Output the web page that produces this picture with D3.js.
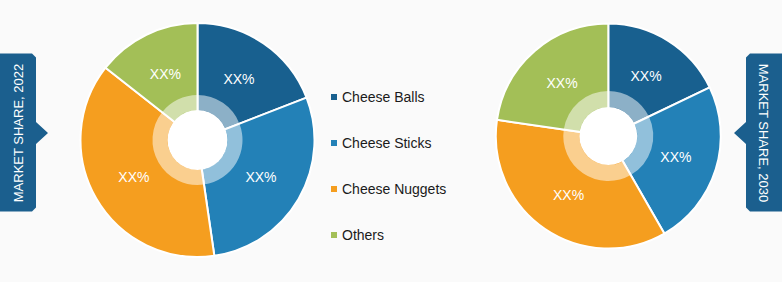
<!DOCTYPE html>
<html>
<head>
<meta charset="utf-8">
<script src="https://cdn.jsdelivr.net/npm/d3@7"></script>
<style>
  html, body { margin: 0; padding: 0; background: #fafafa; }
  svg { display: block; }
</style>
</head>
<body>
<svg id="chart" width="782" height="282"></svg>
<script>
// Segment categories and their market share (%) per year
const categories = ["Cheese Balls", "Cheese Sticks", "Cheese Nuggets", "Others"];
const share2022 = [19.1, 28.6, 37.9, 14.4];
const share2030 = [17.9, 23.8, 35.6, 22.7];
const sliceLabels = ["XX%", "XX%", "XX%", "XX%"];
const years = ["2022", "2030"];

const colors = d3.scaleOrdinal()
  .domain(categories)
  .range(["#18608f", "#2381b7", "#f59e1f", "#a3bf57"]);

const svg = d3.select("#chart");
const W = 782, H = 282;

svg.append("rect").attr("width", W).attr("height", H).attr("fill", "#fafafa");

const pie = d3.pie().sort(null).value(d => d.v);

function drawDonut(values, cx, cy, rOuter, rHole, rRing) {
  const data = categories.map((c, i) => ({ c, v: values[i], label: sliceLabels[i] }));
  const arcs = pie(data);
  const g = svg.append("g").attr("transform", `translate(${cx},${cy})`);

  const arcMain = d3.arc().innerRadius(0).outerRadius(rOuter);
  const arcRing = d3.arc().innerRadius(rHole).outerRadius(rRing);
  const arcLabel = d3.arc().innerRadius(rHole).outerRadius(rOuter);

  g.selectAll("path.slice").data(arcs).join("path")
    .attr("class", "slice")
    .attr("d", arcMain)
    .attr("fill", d => colors(d.data.c))
    .attr("stroke", "#ffffff")
    .attr("stroke-width", 2)
    .attr("stroke-linejoin", "round");

  // lighter inner band
  g.selectAll("path.ring").data(arcs).join("path")
    .attr("class", "ring")
    .attr("d", arcRing)
    .attr("fill", "#ffffff")
    .attr("fill-opacity", 0.5);

  g.append("circle").attr("r", rHole).attr("fill", "#ffffff");

  g.selectAll("text.val").data(arcs).join("text")
    .attr("class", "val")
    .attr("transform", d => `translate(${arcLabel.centroid(d)})`)
    .attr("text-anchor", "middle")
    .attr("dy", "0.36em")
    .attr("fill", "#ffffff")
    .attr("font-family", "'Liberation Sans', Arial, sans-serif")
    .attr("font-size", 14)
    .text(d => d.data.label);
}

drawDonut(share2022, 197.5, 140, 117, 30, 45);
drawDonut(share2030, 608.3, 136, 112.5, 29, 45);

// Legend
const legend = svg.append("g").attr("transform", "translate(331,97)");
const ly = d3.scalePoint().domain(categories).range([0, 138]);
const items = legend.selectAll("g").data(categories).join("g")
  .attr("transform", d => `translate(0,${ly(d)})`);
items.append("rect")
  .attr("x", 0).attr("y", -3).attr("width", 6).attr("height", 6)
  .attr("fill", d => colors(d));
items.append("text")
  .attr("x", 11).attr("dy", "0.36em")
  .attr("fill", "#1a1a1a")
  .attr("font-family", "'Liberation Sans', Arial, sans-serif")
  .attr("font-size", 14)
  .text(d => d);

// Side tabs
const tabColor = "#1b5f8e";
function tab(side, year) {
  const top = 53.5, bot = 211.5, mid = 133, c = 4;
  let pts, tx, rot;
  if (side === "left") {
    const x1 = 36;
    pts = [[0, top], [x1 - c, top], [x1, top + c], [x1, mid - 11], [x1 + 12, mid],
           [x1, mid + 11], [x1, bot - c], [x1 - c, bot], [0, bot]];
    tx = 18; rot = -90;
  } else {
    const x0 = 746;
    pts = [[W, top], [x0 + c, top], [x0, top + c], [x0, mid - 11], [x0 - 12, mid],
           [x0, mid + 11], [x0, bot - c], [x0 + c, bot], [W, bot]];
    tx = 764; rot = 90;
  }
  svg.append("path")
    .attr("d", d3.line()(pts) + "Z")
    .attr("fill", tabColor);
  svg.append("text")
    .attr("transform", `translate(${tx},${mid}) rotate(${rot})`)
    .attr("text-anchor", "middle")
    .attr("dy", "0.36em")
    .attr("fill", "#ffffff")
    .attr("font-family", "'Liberation Sans Narrow', 'Liberation Sans', sans-serif")
    .attr("font-size", 13)
    .text(`MARKET SHARE, ${year}`);
}
tab("left", years[0]);
tab("right", years[1]);
</script>
</body>
</html>
